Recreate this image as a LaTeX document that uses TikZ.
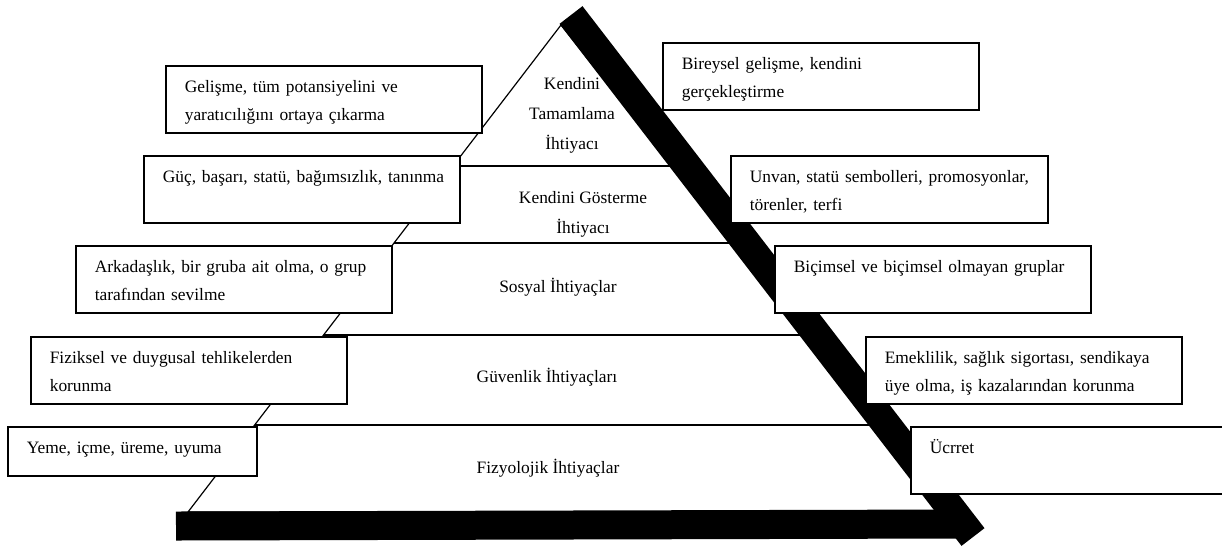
\documentclass[tikz,border=0pt]{standalone}
\usepackage{fontspec}
\setmainfont{Liberation Serif}
\newcommand{\needfont}{\fontsize{17.4}{28}\selectfont}
\newcommand{\levelfont}{\fontsize{17.4}{30}\selectfont}
\tikzset{
  need/.style={draw, line width=1.6pt, fill=white, anchor=north west, align=left, text width=278pt, inner xsep=19pt, inner ysep=12.5pt, text height=14pt, text depth=28pt, font=\needfont},
  level/.style={align=center, inner sep=0pt, anchor=base, font=\levelfont},
  tierline/.style={line width=1.2pt},
  bar/.style={line width=29pt, line cap=butt}
}
\begin{document}
\begin{tikzpicture}[x=1pt,y=-1pt]
  \useasboundingbox (0,0) rectangle (1222,550);
  \coordinate (apex) at (561,25);
  \coordinate (baseleft) at (188,512);
  \coordinate (baseright) at (945,512);

  \begin{scope}
    \clip (baseleft) -- (apex) -- (baseright) -- cycle;
    \foreach \y in {166,243,335,425}
      \draw[tierline] (0,\y) -- (1222,\y);
  \end{scope}
  \draw[tierline] (baseleft) -- (apex) -- (baseright) -- cycle;

  \coordinate (hstart) at (176,526);
  \coordinate (hend) at (960,524);
  \coordinate (dstart) at (571,15);
  \coordinate (dend) at (973,537);
  \draw[bar] (hstart) -- (hend);
  \draw[bar] (dstart) -- (dend);

  \node[level] (selfact) at (572,149) {Kendini\\Tamamlama\\İhtiyacı};
  \node[level] (esteem) at (583,233) {Kendini Gösterme\\İhtiyacı};
  \node[level] (social) at (558,292) {Sosyal İhtiyaçlar};
  \node[level] (safety) at (547,382) {Güvenlik İhtiyaçları};
  \node[level] (physio) at (548,473) {Fizyolojik İhtiyaçlar};

  \node[need] (growth) at (165,65) {Gelişme, tüm potansiyelini ve\\yaratıcılığını ortaya çıkarma};
  \node[need] (power) at (143,155) {\mbox{Güç, başarı, statü, bağımsızlık, tanınma}};
  \node[need] (belong) at (75,245) {Arkadaşlık, bir gruba ait olma, o grup\\tarafından sevilme};
  \node[need] (protect) at (30,336) {Fiziksel ve duygusal tehlikelerden\\korunma};
  \node[need, text width=211pt, text depth=10pt] (basic) at (7,426) {Yeme, içme, üreme, uyuma};

  \node[need] (personal) at (662,42) {Bireysel gelişme, kendini\\gerçekleştirme};
  \node[need, text width=279pt] (title) at (730,155) {\mbox{Unvan, statü sembolleri, promosyonlar,}\\törenler, terfi};
  \node[need] (groups) at (774,245) {Biçimsel ve biçimsel olmayan gruplar};
  \node[need] (pension) at (865,336) {Emeklilik, sağlık sigortası, sendikaya\\üye olma, iş kazalarından korunma};
  \node[need, text width=330pt] (wage) at (910,426) {Ücrret};
\end{tikzpicture}
\end{document}
